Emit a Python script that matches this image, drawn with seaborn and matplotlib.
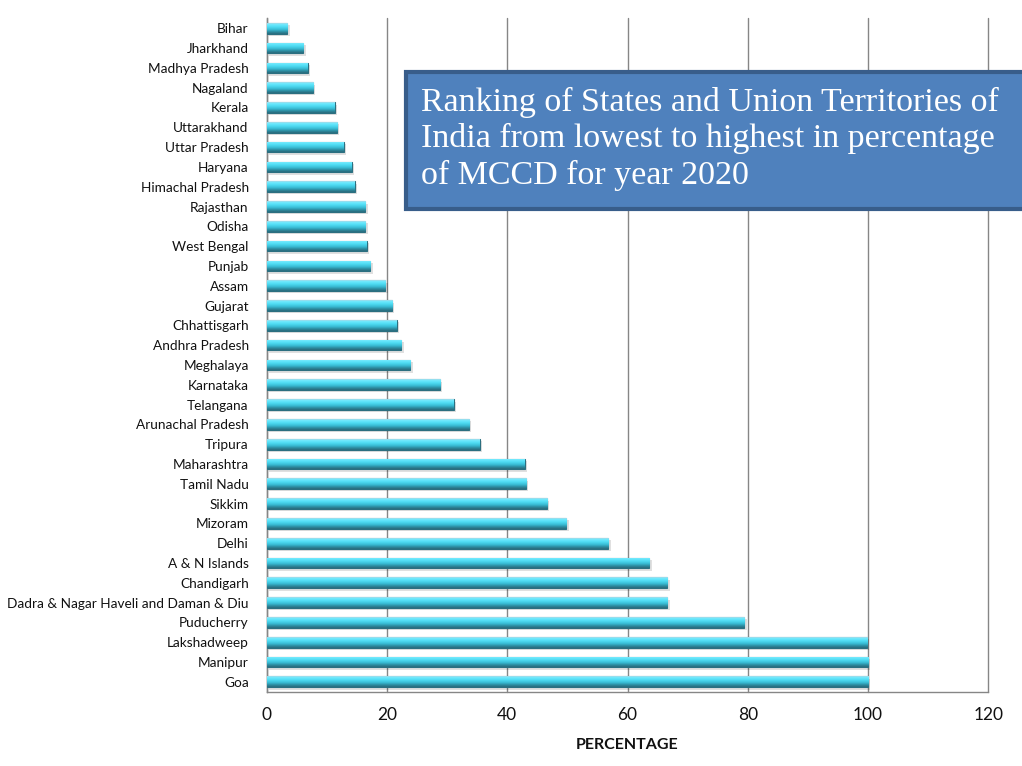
import numpy as np
import pandas as pd
import matplotlib
matplotlib.use("Agg")
import matplotlib.pyplot as plt
import seaborn as sns
from matplotlib.colors import LinearSegmentedColormap
from matplotlib.patches import Rectangle

states = ["Bihar", "Jharkhand", "Madhya Pradesh", "Nagaland", "Kerala", "Uttarakhand",
          "Uttar Pradesh", "Haryana", "Himachal Pradesh", "Rajasthan", "Odisha",
          "West Bengal", "Punjab", "Assam", "Gujarat", "Chhattisgarh", "Andhra Pradesh",
          "Meghalaya", "Karnataka", "Telangana", "Arunachal Pradesh", "Tripura",
          "Maharashtra", "Tamil Nadu", "Sikkim", "Mizoram", "Delhi", "A & N Islands",
          "Chandigarh", "Dadra & Nagar Haveli and Daman & Diu", "Puducherry",
          "Lakshadweep", "Manipur", "Goa"]
percentages = [3.4, 6.1, 6.8, 7.7, 11.3, 11.7, 12.8, 14.1, 14.6, 16.4, 16.4,
               16.6, 17.2, 19.7, 20.8, 21.6, 22.4, 23.9, 28.8, 31.1, 33.6, 35.4,
               42.9, 43.1, 46.6, 49.8, 56.8, 63.6, 66.6, 66.6, 79.4, 99.8, 100.0, 100.0]
x_ticks = [0, 20, 40, 60, 80, 100, 120]
title_lines = ["Ranking of States and Union Territories of",
               "India from lowest to highest in percentage",
               "of MCCD for year 2020"]

df = pd.DataFrame({"State": states, "Percentage": percentages})

sns.set_style("white")
plt.rcParams["font.family"] = ["Lato", "DejaVu Sans"]

fig = plt.figure(figsize=(10.22, 7.66), dpi=100)
ax = fig.add_axes([0.261, 0.097, 0.706, 0.879])

sns.barplot(data=df, x="Percentage", y="State", orient="h", color="#3fc6de",
            width=0.54, edgecolor="#2b6f80", linewidth=0.8, ax=ax, zorder=3)

cmap = LinearSegmentedColormap.from_list(
    "bevel", [(0.0, "#a9d9e6"), (0.12, "#6eeaff"), (0.35, "#4fdcf3"),
              (0.6, "#38bcd4"), (0.8, "#2d8ea3"), (1.0, "#2a6a7b")])
grad = np.linspace(0, 1, 64).reshape(-1, 1)
for p in list(ax.patches):
    x0, y0 = p.get_x(), p.get_y()
    w, h = p.get_width(), p.get_height()
    sh = Rectangle((x0 + 0.4, y0 + 0.12), w, h, facecolor="#000000", alpha=0.12,
                   edgecolor="none", zorder=2)
    ax.add_patch(sh)
    im = ax.imshow(grad, extent=(x0, x0 + w, y0 + h, y0), origin="upper",
                   cmap=cmap, aspect="auto", zorder=3.5, interpolation="bilinear")
    im.set_clip_path(p)

ax.set_xlim(0, 120)
ax.set_ylim(len(states) - 0.5, -0.5)
ax.set_xticks(x_ticks)
ax.set_xticklabels([str(t) for t in x_ticks], fontsize=12.5, color="#111111")
ax.set_yticks(range(len(states)))
ax.set_yticklabels(states, fontsize=9.8, color="#111111")
ax.set_yticks(np.arange(-0.5, len(states), 1), minor=True)
ax.tick_params(axis="y", which="major", length=0, pad=13)
ax.tick_params(axis="y", which="minor", length=5, width=1, color="#868686", direction="out")
ax.tick_params(axis="x", which="major", length=5, width=1, color="#868686", direction="out", pad=6)

ax.grid(axis="x", color="#868686", linewidth=1, zorder=0)
for gl in ax.get_xgridlines():
    gl.set_clip_on(False)
ax.set_axisbelow(True)
for s in ["top", "right"]:
    ax.spines[s].set_visible(False)
for s in ["left", "bottom"]:
    ax.spines[s].set_color("#868686")
    ax.spines[s].set_linewidth(1)

ax.set_ylabel("")
ax.set_xlabel("PERCENTAGE", fontsize=11.5, fontweight="bold", labelpad=11, color="#111111")

box = Rectangle((406 / 1022, 1 - 209 / 766), 0.62, 137 / 766, transform=fig.transFigure,
                facecolor="#4f81bd", edgecolor="#385d8a", linewidth=3, zorder=10,
                clip_on=False)
fig.patches.append(box)
fig.text(421 / 1022, 1 - 87 / 766, "\n".join(title_lines), transform=fig.transFigure,
         ha="left", va="top", fontsize=24.5, color="white",
         family=["Liberation Serif", "DejaVu Serif"], linespacing=1.22, zorder=11)

fig.savefig("out.png", dpi=100)
